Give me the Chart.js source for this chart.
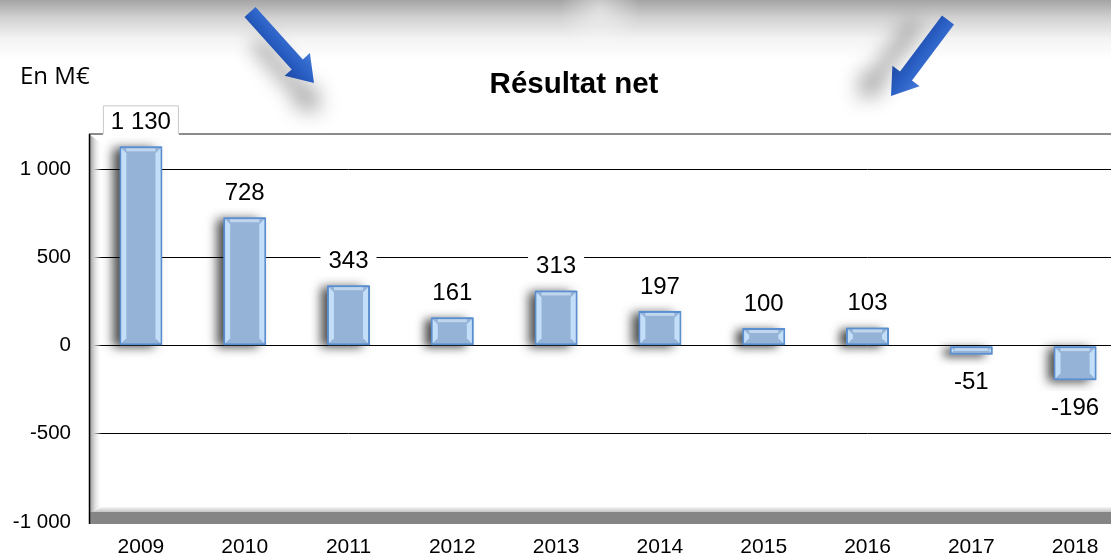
<!DOCTYPE html>
<html>
<head>
<meta charset="utf-8">
<script src="https://cdn.jsdelivr.net/npm/chart.js@4.4.1/dist/chart.umd.min.js"></script>
<style>
  html, body { margin: 0; padding: 0; overflow: hidden; background: #fff; }
  #wrap { width: 1140px; height: 558px; }
</style>
</head>
<body>
<div id="wrap"><canvas id="myChart" width="1140" height="558"></canvas></div>
<script>
var years = ['2009', '2010', '2011', '2012', '2013', '2014', '2015', '2016', '2017', '2018'];
var resultat = [1130, 728, 343, 161, 313, 197, 100, 103, -51, -196];
var yTicks = [-1000, -500, 0, 500, 1000];

var FONT = '"Liberation Sans", Arial, sans-serif';

function fmt(v) {
    var s = String(Math.abs(v)).replace(/\B(?=(\d{3})+(?!\d))/g, ' ');
    return (v < 0 ? '-' : '') + s;
}

// gray band + blue arrows + titles
var decor = {
    id: 'decor',
    beforeDraw: function(chart) {
        var ctx = chart.ctx;
        ctx.save();
        var g = ctx.createLinearGradient(0, 0, 0, 60);
        g.addColorStop(0, '#a4a4a4');
        g.addColorStop(0.3, '#d2d2d2');
        g.addColorStop(0.65, '#f4f4f4');
        g.addColorStop(1, '#ffffff');
        ctx.fillStyle = g;
        ctx.fillRect(0, 0, chart.width, 60);
        var r = ctx.createRadialGradient(600, 10, 0, 600, 10, 40);
        r.addColorStop(0, 'rgba(255,255,255,0.5)');
        r.addColorStop(1, 'rgba(255,255,255,0)');
        ctx.fillStyle = r;
        ctx.fillRect(540, 0, 120, 60);
        ctx.restore();
    },
    afterDraw: function(chart) {
        var ctx = chart.ctx;
        arrow(ctx, 250, 12, 314, 83, 6, 30);
        arrow(ctx, 948, 20, 891, 96, -32, 4);

        ctx.save();
        ctx.fillStyle = '#000';
        ctx.font = '24px "Open Sans", sans-serif';
        ctx.textBaseline = 'middle';
        ctx.fillText('En M\u20ac', 20, 77);
        ctx.font = 'bold 29.5px ' + FONT;
        ctx.textAlign = 'center';
        ctx.fillText('Résultat net', 574, 85);
        ctx.restore();
    }
};

function arrow(ctx, x1, y1, x2, y2, sx, sy) {
    var a = Math.atan2(y2 - y1, x2 - x1);
    var len = Math.hypot(x2 - x1, y2 - y1);
    var sw = 7.5, hw = 17, hl = 25;
    ctx.save();
    ctx.translate(x1, y1);
    ctx.rotate(a);
    ctx.beginPath();
    ctx.moveTo(0, -sw);
    ctx.lineTo(len - hl, -sw);
    ctx.lineTo(len - hl, -hw);
    ctx.lineTo(len, 0);
    ctx.lineTo(len - hl, hw);
    ctx.lineTo(len - hl, sw);
    ctx.lineTo(0, sw);
    ctx.closePath();
    ctx.shadowColor = 'rgba(0,0,0,0.35)';
    ctx.shadowBlur = 20;
    ctx.shadowOffsetX = sx;
    ctx.shadowOffsetY = sy;
    var g = ctx.createLinearGradient(0, -hw, 0, hw);
    g.addColorStop(0, '#4479d8');
    g.addColorStop(0.5, '#2a5fc4');
    g.addColorStop(1, '#1d4aa6');
    ctx.fillStyle = g;
    ctx.fill();
    ctx.restore();
}

// 3D walls of the plot area and bar shadows
var walls = {
    id: 'walls',
    beforeDatasetsDraw: function(chart) {
        var ctx = chart.ctx, a = chart.chartArea;
        ctx.save();
        var g = ctx.createLinearGradient(a.left, 0, a.left + 13, 0);
        g.addColorStop(0, '#8f8f8f');
        g.addColorStop(0.35, '#cdcdcd');
        g.addColorStop(1, 'rgba(255,255,255,0)');
        ctx.fillStyle = g;
        ctx.beginPath();
        ctx.moveTo(a.left, a.top);
        ctx.lineTo(a.left + 13, a.top + 10);
        ctx.lineTo(a.left + 13, a.bottom - 15);
        ctx.lineTo(a.left, a.bottom);
        ctx.closePath();
        ctx.fill();

        var f = ctx.createLinearGradient(0, a.bottom - 16, 0, a.bottom - 10);
        f.addColorStop(0, '#ffffff');
        f.addColorStop(1, '#c4c4c4');
        ctx.fillStyle = f;
        ctx.beginPath();
        ctx.moveTo(a.left + 13, a.bottom - 15);
        ctx.lineTo(a.right, a.bottom - 15);
        ctx.lineTo(a.right, a.bottom - 10);
        ctx.lineTo(a.left + 4, a.bottom - 10);
        ctx.closePath();
        ctx.fill();
        ctx.fillStyle = '#858585';
        ctx.fillRect(a.left, a.bottom - 10, a.right - a.left, 12);

        ctx.strokeStyle = '#8c8c8c';
        ctx.lineWidth = 2;
        ctx.beginPath();
        ctx.moveTo(a.left, a.top);
        ctx.lineTo(a.right, a.top);
        ctx.stroke();
        ctx.strokeStyle = '#000';
        ctx.lineWidth = 1.5;
        ctx.beginPath();
        ctx.moveTo(a.left + 0.5, a.top);
        ctx.lineTo(a.left + 0.5, a.bottom + 2);
        ctx.stroke();

        // soft shadows on the left of each bar
        var meta = chart.getDatasetMeta(0);
        meta.data.forEach(function(bar) {
            var top = Math.min(bar.y, bar.base), bot = Math.max(bar.y, bar.base);
            ctx.save();
            ctx.shadowColor = 'rgba(0,0,0,0.7)';
            ctx.shadowBlur = 10;
            ctx.shadowOffsetX = -7;
            ctx.shadowOffsetY = 2;
            ctx.fillStyle = '#95b3d7';
            ctx.fillRect(bar.x - bar.width / 2 + 1, top, bar.width - 2, bot - top);
            ctx.restore();
        });
        ctx.restore();
    }
};

// bevel + value labels
var labels = {
    id: 'labels',
    afterDatasetsDraw: function(chart) {
        var ctx = chart.ctx, a = chart.chartArea;
        var meta = chart.getDatasetMeta(0);
        ctx.save();
        meta.data.forEach(function(bar, i) {
            var v = resultat[i];
            var w = bar.width, x0 = bar.x - w / 2;
            var top = Math.min(bar.y, bar.base), bot = Math.max(bar.y, bar.base);
            var h = bot - top, e = Math.min(5, h / 3);
            ctx.fillStyle = 'rgba(200,226,252,0.9)';
            ctx.beginPath();
            ctx.moveTo(x0 + 2, top + 2); ctx.lineTo(x0 + 2 + e, top + 2 + e);
            ctx.lineTo(x0 + 2 + e, bot - 2 - e); ctx.lineTo(x0 + 2, bot - 2);
            ctx.closePath(); ctx.fill();
            ctx.beginPath();
            ctx.moveTo(x0 + w - 2, top + 2); ctx.lineTo(x0 + w - 2 - e, top + 2 + e);
            ctx.lineTo(x0 + w - 2 - e, bot - 2 - e); ctx.lineTo(x0 + w - 2, bot - 2);
            ctx.closePath(); ctx.fill();
            ctx.fillStyle = 'rgba(220,236,252,0.6)';
            ctx.fillRect(x0 + 2 + e, top + 2, w - 4 - 2 * e, Math.min(3, e));

            ctx.font = '24px ' + FONT;
            var txt = fmt(v);
            var tw = ctx.measureText(txt).width;
            var cy = v >= 0 ? bar.y - 25 : bar.y + 27;
            var bx = bar.x - tw / 2 - 8, by = cy - 16, bw = tw + 16, bh = 31;
            ctx.fillStyle = '#fff';
            ctx.fillRect(bx, by, bw, bh);
            if (by < a.top) {
                ctx.strokeStyle = '#c8c8c8';
                ctx.lineWidth = 1;
                ctx.beginPath();
                ctx.moveTo(bx + 0.5, a.top);
                ctx.lineTo(bx + 0.5, by + 0.5);
                ctx.lineTo(bx + bw - 0.5, by + 0.5);
                ctx.lineTo(bx + bw - 0.5, a.top);
                ctx.stroke();
            }
            ctx.fillStyle = '#000';
            ctx.textAlign = 'center';
            ctx.textBaseline = 'middle';
            ctx.fillText(txt, bar.x, cy + 1);
        });
        ctx.restore();
    }
};

var ctx = document.getElementById('myChart').getContext('2d');
var myChart = new Chart(ctx, {
    type: 'bar',
    data: {
        labels: years,
        datasets: [{
            data: resultat,
            backgroundColor: '#95b3d7',
            borderColor: '#5b8ed0',
            borderWidth: 2,
            borderSkipped: false,
            categoryPercentage: 1,
            barPercentage: 0.415
        }]
    },
    options: {
        responsive: false,
        animation: false,
        events: [],
        layout: { padding: { left: 0, right: 13, top: 134, bottom: 0 } },
        plugins: {
            legend: { display: false },
            title: { display: false },
            tooltip: { enabled: false }
        },
        scales: {
            x: {
                grid: { display: false },
                border: { display: false },
                ticks: { color: '#000', font: { family: FONT, size: 21 }, padding: 5, maxRotation: 0 },
                afterFit: function(s) { s.height = 36; }
            },
            y: {
                min: -1000,
                max: 1200,
                afterBuildTicks: function(s) {
                    s.ticks = yTicks.map(function(v) { return { value: v }; });
                },
                grid: { color: '#000', lineWidth: 1, drawTicks: false },
                border: { display: false },
                ticks: {
                    color: '#000',
                    font: { family: FONT, size: 20.5 },
                    padding: 18,
                    callback: function(v) { return fmt(v); }
                },
                afterFit: function(s) { s.width = 89; }
            }
        }
    },
    plugins: [decor, walls, labels]
});
</script>
</body>
</html>
